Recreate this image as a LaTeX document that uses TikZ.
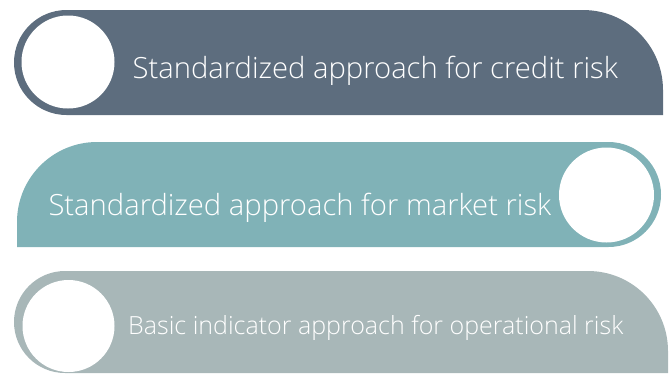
\documentclass[tikz,border=0pt]{standalone}
\usepackage{fontspec}
\newfontfamily\lightfont{Open Sans Light}
\definecolor{slate}{HTML}{5D6D7E}
\definecolor{teal}{HTML}{80B2B7}
\definecolor{sage}{HTML}{A8B7B8}
\begin{document}
\begin{tikzpicture}[x=1pt,y=-1pt,
  label/.style={anchor=base west,inner sep=0pt,text=white,font=\lightfont\fontsize{29.2}{34}\selectfont},
  hole/.style={fill=white}]
\useasboundingbox (0,0) rectangle (671,373);
% band 1
\fill[slate] (66.5,10) -- (583,10) arc[start angle=-90,end angle=0,radius=80] -- (663,115) -- (66.5,115) arc[start angle=90,end angle=270,radius=52.5] -- cycle;
\fill[hole] (68,62) circle[radius=46.5];
\node[label] (t1) at (132.5,78.3) {Standardized approach for credit risk};
% band 2
\fill[teal] (97,142) -- (608.5,142) arc[start angle=-90,end angle=90,radius=52.5] -- (17,247) -- (17,222) arc[start angle=180,end angle=270,radius=80] -- cycle;
\fill[hole] (606.5,195) circle[radius=47.5];
\node[label] (t2) at (48.3,215) {Standardized approach for market risk};
% band 3
\fill[sage] (65,271) -- (588,271) arc[start angle=-90,end angle=0,radius=80] -- (668,373) -- (65,373) arc[start angle=90,end angle=270,radius=51] -- cycle;
\fill[hole] (68.5,326) circle[radius=46];
\node[label,font=\lightfont\fontsize{25}{30}\selectfont] (t3) at (128,334.3) {Basic indicator approach for operational risk};
\end{tikzpicture}
\end{document}
